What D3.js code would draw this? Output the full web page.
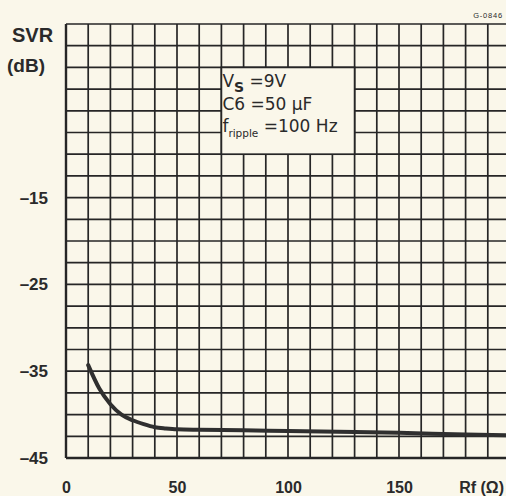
<!DOCTYPE html>
<html>
<head>
<meta charset="utf-8">
<script src="https://cdn.jsdelivr.net/npm/d3@7"></script>
<style>
  html, body { margin: 0; padding: 0; background: #faf7ea; }
  svg { display: block; }
  text { fill: #2a2a2a; }
</style>
</head>
<body>
<svg id="chart" width="506" height="496" font-family="Liberation Sans, Arial, sans-serif"></svg>
<script>
// SVR versus Rf curve
const rfValues  = [10, 15, 20, 25, 30, 35, 40, 45, 50, 60, 80, 100, 130, 150, 180, 200];
const svrValues = [-34.3, -37.0, -38.8, -40.0, -40.65, -41.1, -41.45, -41.6, -41.7, -41.75, -41.8, -41.9, -42.0, -42.1, -42.3, -42.4];

const xTickLabels = [0, 50, 100, 150];
const yTickLabels = [-45, -35, -25, -15];

const xDomain = [0, 200];
const yDomain = [-45, 5];
const xGridStep = 10;   // Ω per grid column
const yGridStep = 2.5;  // dB per grid row

const conditionLines = [
  { main: "V", sub: "S", rest: " =9V" },
  { main: "C6 =50 µF", sub: "", rest: "" },
  { main: "f", sub: "ripple", rest: " =100 Hz" }
];
const conditionBox = { x0: 70, x1: 130, y0: 0, y1: -10 };

const ink = "#262626";
const paper = "#faf7ea";
const sans = "Liberation Sans, Arial, sans-serif";

const svg = d3.select("#chart");
const x = d3.scaleLinear().domain(xDomain).range([66, 510]);
const y = d3.scaleLinear().domain(yDomain).range([458, 24]);

// grid
const grid = svg.append("g").attr("stroke", ink);
d3.range(xDomain[0], xDomain[1] + 0.001, xGridStep).forEach(v => {
  grid.append("line")
    .attr("x1", x(v)).attr("x2", x(v))
    .attr("y1", y(yDomain[0])).attr("y2", y(yDomain[1]))
    .attr("stroke-width", v === 0 ? 2.4 : 1.7);
});
d3.range(yDomain[0], yDomain[1] + 0.001, yGridStep).forEach(v => {
  grid.append("line")
    .attr("x1", x(xDomain[0])).attr("x2", x(xDomain[1]))
    .attr("y1", y(v)).attr("y2", y(v))
    .attr("stroke-width", v === yDomain[0] ? 2.4 : 1.7);
});

// conditions box
svg.append("rect")
  .attr("x", x(conditionBox.x0)).attr("y", y(conditionBox.y0))
  .attr("width", x(conditionBox.x1) - x(conditionBox.x0))
  .attr("height", y(conditionBox.y1) - y(conditionBox.y0))
  .attr("fill", paper).attr("stroke", ink).attr("stroke-width", 1.7);

const cond = svg.append("g").attr("font-size", 17)
  .style("font-family", "'DejaVu Sans', sans-serif");
conditionLines.forEach((ln, i) => {
  const t = cond.append("text")
    .attr("x", x(conditionBox.x0) + 1)
    .attr("y", 87 + i * 22.5);
  t.append("tspan").text(ln.main);
  if (ln.sub) {
    const long = ln.sub.length > 1;
    t.append("tspan").attr("font-size", long ? 10.5 : 14)
      .attr("dy", 5).attr("font-weight", long ? "normal" : "bold").text(ln.sub);
    t.append("tspan").attr("dy", -5).text(ln.rest);
  }
});

// curve
const line = d3.line()
  .x((d, i) => x(rfValues[i]))
  .y(d => y(d))
  .curve(d3.curveMonotoneX);
svg.append("path")
  .datum(svrValues)
  .attr("d", line)
  .attr("fill", "none")
  .attr("stroke", "#2f2f2f")
  .attr("stroke-width", 4)
  .attr("stroke-linecap", "round");

// axes
const xAxis = svg.append("g")
  .call(d3.axisBottom(x).tickValues(xTickLabels).tickSize(0).tickFormat(d3.format("d")));
xAxis.select(".domain").remove();
xAxis.selectAll("text")
  .attr("y", 487).attr("dy", "0.35em")
  .attr("font-size", 16).attr("font-weight", "bold")
  .style("font-family", sans).style("fill", "#2a2a2a");

const yAxis = svg.append("g")
  .attr("transform", `translate(51, 0)`)
  .call(d3.axisLeft(y).tickValues(yTickLabels).tickSize(0)
    .tickFormat(d => "\u2013" + Math.abs(d)));
yAxis.select(".domain").remove();
yAxis.selectAll("text").attr("font-size", 17).attr("font-weight", "bold")
  .style("font-family", sans).style("fill", "#2a2a2a");

// axis titles
svg.append("text").attr("x", 12).attr("y", 42)
  .attr("font-size", 20).attr("font-weight", "bold").text("SVR");
svg.append("text").attr("x", 7).attr("y", 72)
  .attr("font-size", 19).attr("font-weight", "bold").text("(dB)");
svg.append("text").attr("x", 504).attr("y", 487).attr("dy", "0.35em")
  .attr("text-anchor", "end").attr("font-size", 16).attr("font-weight", "bold").text("Rf (\u03a9)");

// figure code
svg.append("text").attr("x", 503).attr("y", 18)
  .attr("text-anchor", "end").attr("font-size", 7.5).attr("letter-spacing", 0.8)
  .text("G-0846");
</script>
</body>
</html>
